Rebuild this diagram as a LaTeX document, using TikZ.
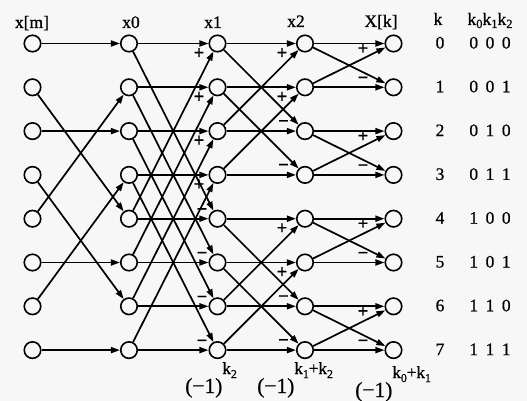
\documentclass[tikz,border=0pt]{standalone}
\usepackage{fontspec}
\setmainfont[FakeBold=0.7]{Liberation Serif}
\usetikzlibrary{arrows.meta}
\begin{document}
\begin{tikzpicture}[x=1pt,y=-1pt,
  nd/.style={circle,draw,line width=1.6pt,minimum size=16.5pt,inner sep=0pt},
  ar/.style={line width=1.7pt,-{Triangle[length=9pt,width=6pt]}},
  hd/.style={anchor=base,inner sep=0pt,font=\fontsize{17.5}{17.5}\selectfont},
  sg/.style={inner sep=0pt,font=\fontsize{19}{19}\selectfont\bfseries},
  bt/.style={anchor=base west,inner sep=0pt,font=\fontsize{21.5}{21.5}\selectfont},
]
\fill[black!3] (0,0) rectangle (527,401);
\useasboundingbox (0,0) rectangle (527,401);

% nodes
\foreach \i in {0,...,7} {
  \pgfmathsetmacro\yy{43.5+43.8*\i}
  \node[nd] (a\i) at (32.5,\yy) {};
  \node[nd] (b\i) at (129,\yy) {};
  \node[nd] (c\i) at (217.5,\yy) {};
  \node[nd] (d\i) at (305,\yy) {};
  \node[nd] (e\i) at (393.5,\yy) {};
}

% headers
\node[hd] (hxm) at (32,28) {x[m]};
\node[hd] (hx0) at (131,28) {x0};
\node[hd] (hx1) at (213,28) {x1};
\node[hd] (hx2) at (296,27) {x2};
\node[hd] (hXk) at (381,27) {X[k]};
\node[hd] (hk) at (438,25) {k};
\node[hd] (hkb) at (490,25) {k\raisebox{-3pt}{\fontsize{12.5}{12.5}\selectfont 0}k\raisebox{-3pt}{\fontsize{12.5}{12.5}\selectfont 1}k\raisebox{-3pt}{\fontsize{12.5}{12.5}\selectfont 2}};

% row labels
\foreach \i/\c in {0/{0\hspace{7.5pt}0\hspace{7.5pt}0},1/{0\hspace{7.5pt}0\hspace{7.5pt}1},2/{0\hspace{7.5pt}1\hspace{7.5pt}0},3/{0\hspace{7.5pt}1\hspace{7.5pt}1},4/{1\hspace{7.5pt}0\hspace{7.5pt}0},5/{1\hspace{7.5pt}0\hspace{7.5pt}1},6/{1\hspace{7.5pt}1\hspace{7.5pt}0},7/{1\hspace{7.5pt}1\hspace{7.5pt}1}} {
  \pgfmathsetmacro\yy{43.5+43.8*\i+5}
  \node[hd] (k\i) at (440,\yy) {\i};
  \node[hd] (kb\i) at (490,\yy) {\c};
}

% stage 1: bit reversal
\foreach \i/\r in {0/0,1/4,2/2,3/6,4/1,5/5,6/3,7/7}
  \draw[ar] (a\i) -- (b\r);

% stage 2: span 4
\foreach \k in {0,...,3} {
  \pgfmathtruncatemacro\m{\k+4}
  \draw[ar] (b\k) -- (c\k);
  \draw[ar] (b\m) -- (c\k);
  \draw[ar] (b\k) -- (c\m);
  \draw[ar] (b\m) -- (c\m);
  \pgfmathsetmacro\yp{43.5+43.8*\k+10}
  \pgfmathsetmacro\ym{43.5+43.8*\m-7}
  \node[sg] (s2p\k) at (199,\yp) {+};
  \node[sg] (s2m\k) at (202,\ym) {−};
}

% stage 3: span 2
\foreach \k in {0,1,4,5} {
  \pgfmathtruncatemacro\m{\k+2}
  \draw[ar] (c\k) -- (d\k);
  \draw[ar] (c\m) -- (d\k);
  \draw[ar] (c\k) -- (d\m);
  \draw[ar] (c\m) -- (d\m);
  \pgfmathsetmacro\yp{43.5+43.8*\k+10}
  \pgfmathsetmacro\ym{43.5+43.8*\m-7.5}
  \node[sg] (s3p\k) at (282,\yp) {+};
  \node[sg] (s3m\k) at (283.5,\ym) {−};
}

% stage 4: span 1
\foreach \k in {0,2,4,6} {
  \pgfmathtruncatemacro\m{\k+1}
  \draw[ar] (d\k) -- (e\k);
  \draw[ar] (d\m) -- (e\k);
  \draw[ar] (d\k) -- (e\m);
  \draw[ar] (d\m) -- (e\m);
  \pgfmathsetmacro\yp{43.5+43.8*\k+5.5}
  \pgfmathsetmacro\ym{43.5+43.8*\m-7}
  \node[sg] (s4p\k) at (363,\yp) {+};
  \node[sg] (s4m\k) at (363,\ym) {−};
}

% bottom labels
\node[bt] (f1) at (185,393) {(−1)\raisebox{19pt}{\fontsize{17}{17}\selectfont k\raisebox{-4pt}{\fontsize{12}{12}\selectfont 2}}};
\node[bt] (f2) at (257,393) {(−1)\raisebox{19pt}{\fontsize{17}{17}\selectfont k\raisebox{-4pt}{\fontsize{12}{12}\selectfont 1}+k\raisebox{-4pt}{\fontsize{12}{12}\selectfont 2}}};
\node[bt] (f3) at (355,397) {(−1)\raisebox{19pt}{\fontsize{17}{17}\selectfont k\raisebox{-4pt}{\fontsize{12}{12}\selectfont 0}+k\raisebox{-4pt}{\fontsize{12}{12}\selectfont 1}}};
\end{tikzpicture}
\end{document}
